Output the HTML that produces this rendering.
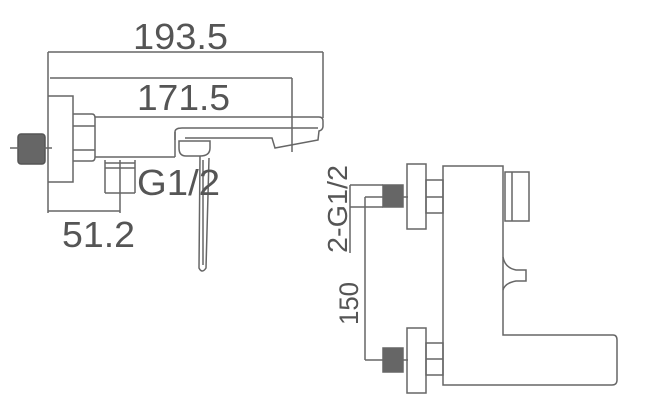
<!DOCTYPE html>
<html><head><meta charset="utf-8"><style>
html,body{margin:0;padding:0;background:#fff;width:650px;height:407px;overflow:hidden}
svg{display:block}
text{font-family:"Liberation Sans",sans-serif;fill:#555}
</style></head><body>
<svg width="650" height="407" viewBox="0 0 650 407" xmlns="http://www.w3.org/2000/svg">
<g fill="none" stroke="#666" stroke-width="1.5">
<!-- left view dimensions -->
<line x1="48" y1="52" x2="323" y2="52"/>
<line x1="48" y1="52" x2="48" y2="213"/>
<line x1="323" y1="52" x2="323" y2="118"/>
<line x1="50" y1="78" x2="292" y2="78"/>
<line x1="292" y1="78" x2="292" y2="152"/>
<line x1="48" y1="211" x2="120" y2="211"/>
<line x1="120" y1="160" x2="120" y2="213"/>
<!-- wall flange -->
<path d="M48 96 H73 V182 H48"/>
<!-- nut -->
<path d="M73 114 H92 Q95 114 95 118 V157 Q95 161 92 161 H73"/>
<line x1="73" y1="126" x2="95" y2="126"/>
<line x1="73" y1="150" x2="95" y2="150"/>
<!-- fitting -->
<rect x="18" y="134" width="27" height="30" rx="3" fill="#666" stroke="#555"/>
<line x1="10" y1="148" x2="52" y2="148"/>
<!-- body -->
<path d="M95 117 H319 Q323 117 323 121 V126 Q323 130 319 131 L318 140 L275 148 L272 138 H185"/>
<path d="M175 140 V132 Q175 128 182 128 H318"/>
<line x1="95" y1="157" x2="175" y2="157"/>
<line x1="175" y1="132" x2="175" y2="157"/>
<!-- inlet G1/2 -->
<path d="M105 160 V193 M135 160 V193 M105 193 H135 M105 163 H135 M105 168 H135"/>
<!-- handle -->
<path d="M179 141 H210 V148 Q210 156 200 156 H186 Q179 156 179 148 Z"/>
<path d="M200 156 L199 268 Q202 274 206 268 L209 158"/>
<path d="M203 160 L203 265"/>
<!-- right view -->
<path d="M443 166 H503 V335 H613 Q617 335 617 340 V380 Q617 385 612 385 H443 Z"/>
<rect x="407" y="164" width="19" height="65"/>
<rect x="426" y="180" width="17" height="33"/>
<line x1="426" y1="197" x2="443" y2="197"/>
<rect x="407" y="328" width="19" height="65"/>
<rect x="426" y="343" width="17" height="32"/>
<line x1="426" y1="359" x2="443" y2="359"/>
<rect x="383" y="185" width="20" height="22" fill="#666"/>
<rect x="383" y="348" width="20" height="24" fill="#666"/>
<line x1="350" y1="185" x2="383" y2="185"/>
<line x1="350" y1="207" x2="383" y2="207"/>
<line x1="365" y1="197" x2="383" y2="197"/>
<line x1="350" y1="185" x2="350" y2="253"/>
<line x1="365" y1="197" x2="365" y2="360"/>
<line x1="365" y1="360" x2="383" y2="360"/>
<line x1="403" y1="197" x2="408" y2="197"/>
<line x1="403" y1="360" x2="408" y2="360"/>
<rect x="505" y="172" width="24" height="49"/>
<line x1="512" y1="172" x2="512" y2="221"/>
<path d="M503 257 Q505 268 516 270 H526 V281 H516 Q505 283 503 290"/>
</g>
<text x="133" y="49" font-size="36" textLength="95" lengthAdjust="spacingAndGlyphs">193.5</text>
<text x="137" y="110" font-size="36" textLength="93" lengthAdjust="spacingAndGlyphs">171.5</text>
<text x="137" y="195" font-size="36" textLength="83" lengthAdjust="spacingAndGlyphs">G1/2</text>
<text x="62" y="247" font-size="36" textLength="73" lengthAdjust="spacingAndGlyphs">51.2</text>
<text transform="translate(347,253) rotate(-90)" font-size="28" textLength="88" lengthAdjust="spacingAndGlyphs">2-G1/2</text>
<text transform="translate(358,325) rotate(-90)" font-size="27" textLength="43" lengthAdjust="spacingAndGlyphs">150</text>
</svg>
</body></html>
